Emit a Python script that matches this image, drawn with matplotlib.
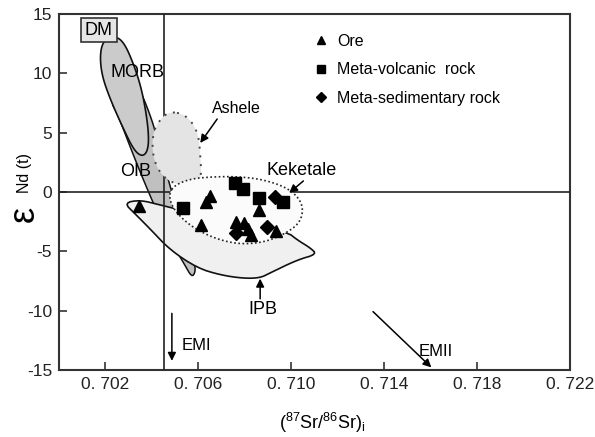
import numpy as np
import matplotlib
matplotlib.use("Agg")
import matplotlib.pyplot as plt
from matplotlib.patches import Polygon

plt.rcParams['font.family'] = ['Liberation Sans', 'DejaVu Sans']
plt.rcParams['mathtext.fontset'] = 'custom'
plt.rcParams['mathtext.rm'] = 'Liberation Sans'
plt.rcParams['mathtext.it'] = 'Liberation Sans:italic'
plt.rcParams['axes.unicode_minus'] = False

# samples: (87Sr/86Sr)i and eNd(t)
ore_sr = [0.70346, 0.70651, 0.70634, 0.70612, 0.70861, 0.70760, 0.70797, 0.70815, 0.70828, 0.70935]
ore_nd = [-1.15, -0.30, -0.85, -2.75, -1.55, -2.50, -2.60, -3.15, -3.65, -3.25]
volc_sr = [0.70536, 0.70756, 0.70794, 0.70863, 0.70963]
volc_nd = [-1.32, 0.74, 0.26, -0.53, -0.81]
sed_sr = [0.70928, 0.70763, 0.70895]
sed_nd = [-0.44, -3.48, -2.97]

# reservoir fields (outline vertices)
morb_sr = [0.70227, 0.70276, 0.70326, 0.70360, 0.70384, 0.70386, 0.70363, 0.70324,
           0.70273, 0.70222, 0.70186, 0.70176, 0.70188]
morb_nd = [13.15, 12.80, 10.56, 8.34, 5.51, 3.70, 2.95, 3.45, 5.51, 7.75, 9.72, 11.40, 12.65]
oib_sr = [0.70319, 0.70356, 0.70400, 0.70418, 0.70444, 0.70470, 0.70522, 0.70556, 0.70582,
          0.70588, 0.70572, 0.70539, 0.70478, 0.70405, 0.70328, 0.70254, 0.70220, 0.70263]
oib_nd = [9.27, 8.32, 6.07, 4.81, 3.12, 1.02, -2.35, -4.46, -5.89, -6.70, -7.20, -6.06,
          -4.04, -0.92, 2.70, 6.49, 7.75, 9.44]
ashele_sr = [0.70491, 0.70530, 0.70565, 0.70591, 0.70603, 0.70608, 0.70612, 0.70608,
             0.70543, 0.70478, 0.70435, 0.70409, 0.70401, 0.70409, 0.70435, 0.70461]
ashele_nd = [6.74, 6.58, 6.07, 5.23, 4.39, 3.12, 1.86, 0.85, 0.51, 0.85, 1.61, 2.70,
             3.96, 5.23, 6.07, 6.58]
kek_sr = [0.70474, 0.70500, 0.70565, 0.70651, 0.70759, 0.70866, 0.70966, 0.71026, 0.71052,
          0.71039, 0.70987, 0.70892, 0.70780, 0.70677, 0.70586, 0.70522, 0.70483]
kek_nd = [-0.08, 0.59, 1.10, 1.27, 1.31, 1.10, 0.51, -0.33, -1.34, -2.52, -3.37, -4.21,
          -4.42, -3.96, -3.11, -2.10, -1.09]
ipb_sr = [0.70280, 0.70349, 0.70435, 0.70522, 0.70737, 0.70983, 0.71026, 0.71082, 0.71110,
          0.71026, 0.70909, 0.70866, 0.70793, 0.70694, 0.70595, 0.70478, 0.70392, 0.70328]
ipb_nd = [-0.92, -0.67, -1.09, -1.51, -2.35, -3.37, -4.04, -4.71, -5.25, -5.72, -6.82,
          -7.24, -7.28, -6.99, -6.40, -4.88, -3.11, -1.85]

bulk_sr = 0.7045
xticks = [0.702, 0.706, 0.710, 0.714, 0.718, 0.722]
xticklabels = ['0. 702', '0. 706', '0. 710', '0. 714', '0. 718', '0. 722']
yticks = [-15, -10, -5, 0, 5, 10, 15]


def smooth(xs, ys, n=3):
    pts = np.column_stack([xs, ys])
    for _ in range(n):
        nxt = np.roll(pts, -1, axis=0)
        out = np.empty((2 * len(pts), 2))
        out[0::2] = 0.75 * pts + 0.25 * nxt
        out[1::2] = 0.25 * pts + 0.75 * nxt
        pts = out
    return pts


fig = plt.figure(figsize=(5.95, 4.37), dpi=100)
ax = fig.add_axes([59 / 595, 1 - 370 / 437, 511 / 595, 356 / 437])
ax.set_xlim(0.700, 0.722)
ax.set_ylim(-15, 15)

ax.add_patch(Polygon(smooth(oib_sr, oib_nd, 2), closed=True, fc='#c0c0c0', ec='#111', lw=1.1, zorder=1))
ax.add_patch(Polygon(smooth(morb_sr, morb_nd), closed=True, fc='#cbcbcb', ec='#111', lw=1.2, zorder=1.5))
ax.add_patch(Polygon(smooth(ipb_sr, ipb_nd, 2), closed=True, fc='#f0f0f0', ec='#111', lw=1.2, zorder=2))

ax.axhline(0, color='#222', lw=1.2, zorder=3)
ax.axvline(bulk_sr, color='#222', lw=1.2, zorder=3)

ax.add_patch(Polygon(smooth(ashele_sr, ashele_nd), closed=True, fc='#e4e4e4', ec='#444',
                     lw=1.4, ls=(0, (1, 3.5)), zorder=4))
ax.add_patch(Polygon(smooth(kek_sr, kek_nd), closed=True, fc='#fbfbfb', ec='#222',
                     lw=1.2, ls=(0, (1, 1.5)), zorder=5))

ax.plot(ore_sr, ore_nd, '^', color='k', ms=8.5, ls='none', zorder=6, label='Ore')
ax.plot(volc_sr, volc_nd, 's', color='k', ms=8, ls='none', zorder=6, label='Meta-volcanic  rock')
ax.plot(sed_sr, sed_nd, 'D', color='k', ms=7, ls='none', zorder=6, label='Meta-sedimentary rock')

# field labels
ax.text(0.70172, 13.65, 'DM', fontsize=13, ha='center', va='center', zorder=7,
        bbox=dict(boxstyle='square,pad=0.2', fc='#e6e6e6', ec='#333', lw=1.2))
ax.text(0.70338, 10.07, 'MORB', fontsize=13, ha='center', va='center', zorder=7)
ax.text(0.70332, 1.73, 'OIB', fontsize=13, ha='center', va='center', zorder=7)
ax.text(0.70763, 7.0, 'Ashele', fontsize=11.5, ha='center', va='center', zorder=7)
ax.text(0.71043, 1.77, 'Keketale', fontsize=13, ha='center', va='center', zorder=7)
ax.text(0.70879, -9.94, 'IPB', fontsize=13, ha='center', va='center', zorder=7)
ax.text(0.7053, -12.9, 'EMI', fontsize=12, ha='left', va='center', zorder=7)
ax.text(0.7155, -13.45, 'EMII', fontsize=12, ha='left', va='center', zorder=7)

arrow = dict(arrowstyle='-|>', color='k', lw=1.1, mutation_scale=12, shrinkA=0, shrinkB=0)
ax.annotate('', xy=(0.70608, 4.13), xytext=(0.70681, 6.15), arrowprops=arrow, zorder=7)
ax.annotate('', xy=(0.70991, -0.08), xytext=(0.71052, 0.93), arrowprops=arrow, zorder=7)
ax.annotate('', xy=(0.70866, -7.3), xytext=(0.70866, -9.0), arrowprops=arrow, zorder=7)
ax.annotate('', xy=(0.70486, -14.23), xytext=(0.70486, -10.23), arrowprops=arrow, zorder=7)
ax.annotate('', xy=(0.71603, -14.78), xytext=(0.71352, -10.08), arrowprops=arrow, zorder=7)

ax.legend(loc='upper left', bbox_to_anchor=(0.501, 0.945), frameon=False, fontsize=11.5,
          handlelength=0.8, handletextpad=0.6, labelspacing=0.85, borderpad=0,
          borderaxespad=0, markerscale=0.75)

ax.set_xticks(xticks)
ax.set_xticklabels(xticklabels)
ax.set_yticks(yticks)
ax.tick_params(direction='in', length=6, width=1.2, color='#333', labelsize=12.5,
               labelcolor='#222', pad=5)
for s in ax.spines.values():
    s.set_linewidth(1.5)
    s.set_color('#333')

fig.text(24 / 595, 1 - 214 / 437, 'ε', rotation=90, fontsize=26, ha='center', va='center')
fig.text(25 / 595, 1 - 173 / 437, 'Nd (t)', rotation=90, fontsize=11.5, ha='center', va='center')
fig.text(322 / 595, 1 - 423 / 437, r'($^{87}$Sr/$^{86}$Sr)$_{\mathrm{i}}$', fontsize=13,
         ha='center', va='center')

fig.savefig('out.png', dpi=100)
